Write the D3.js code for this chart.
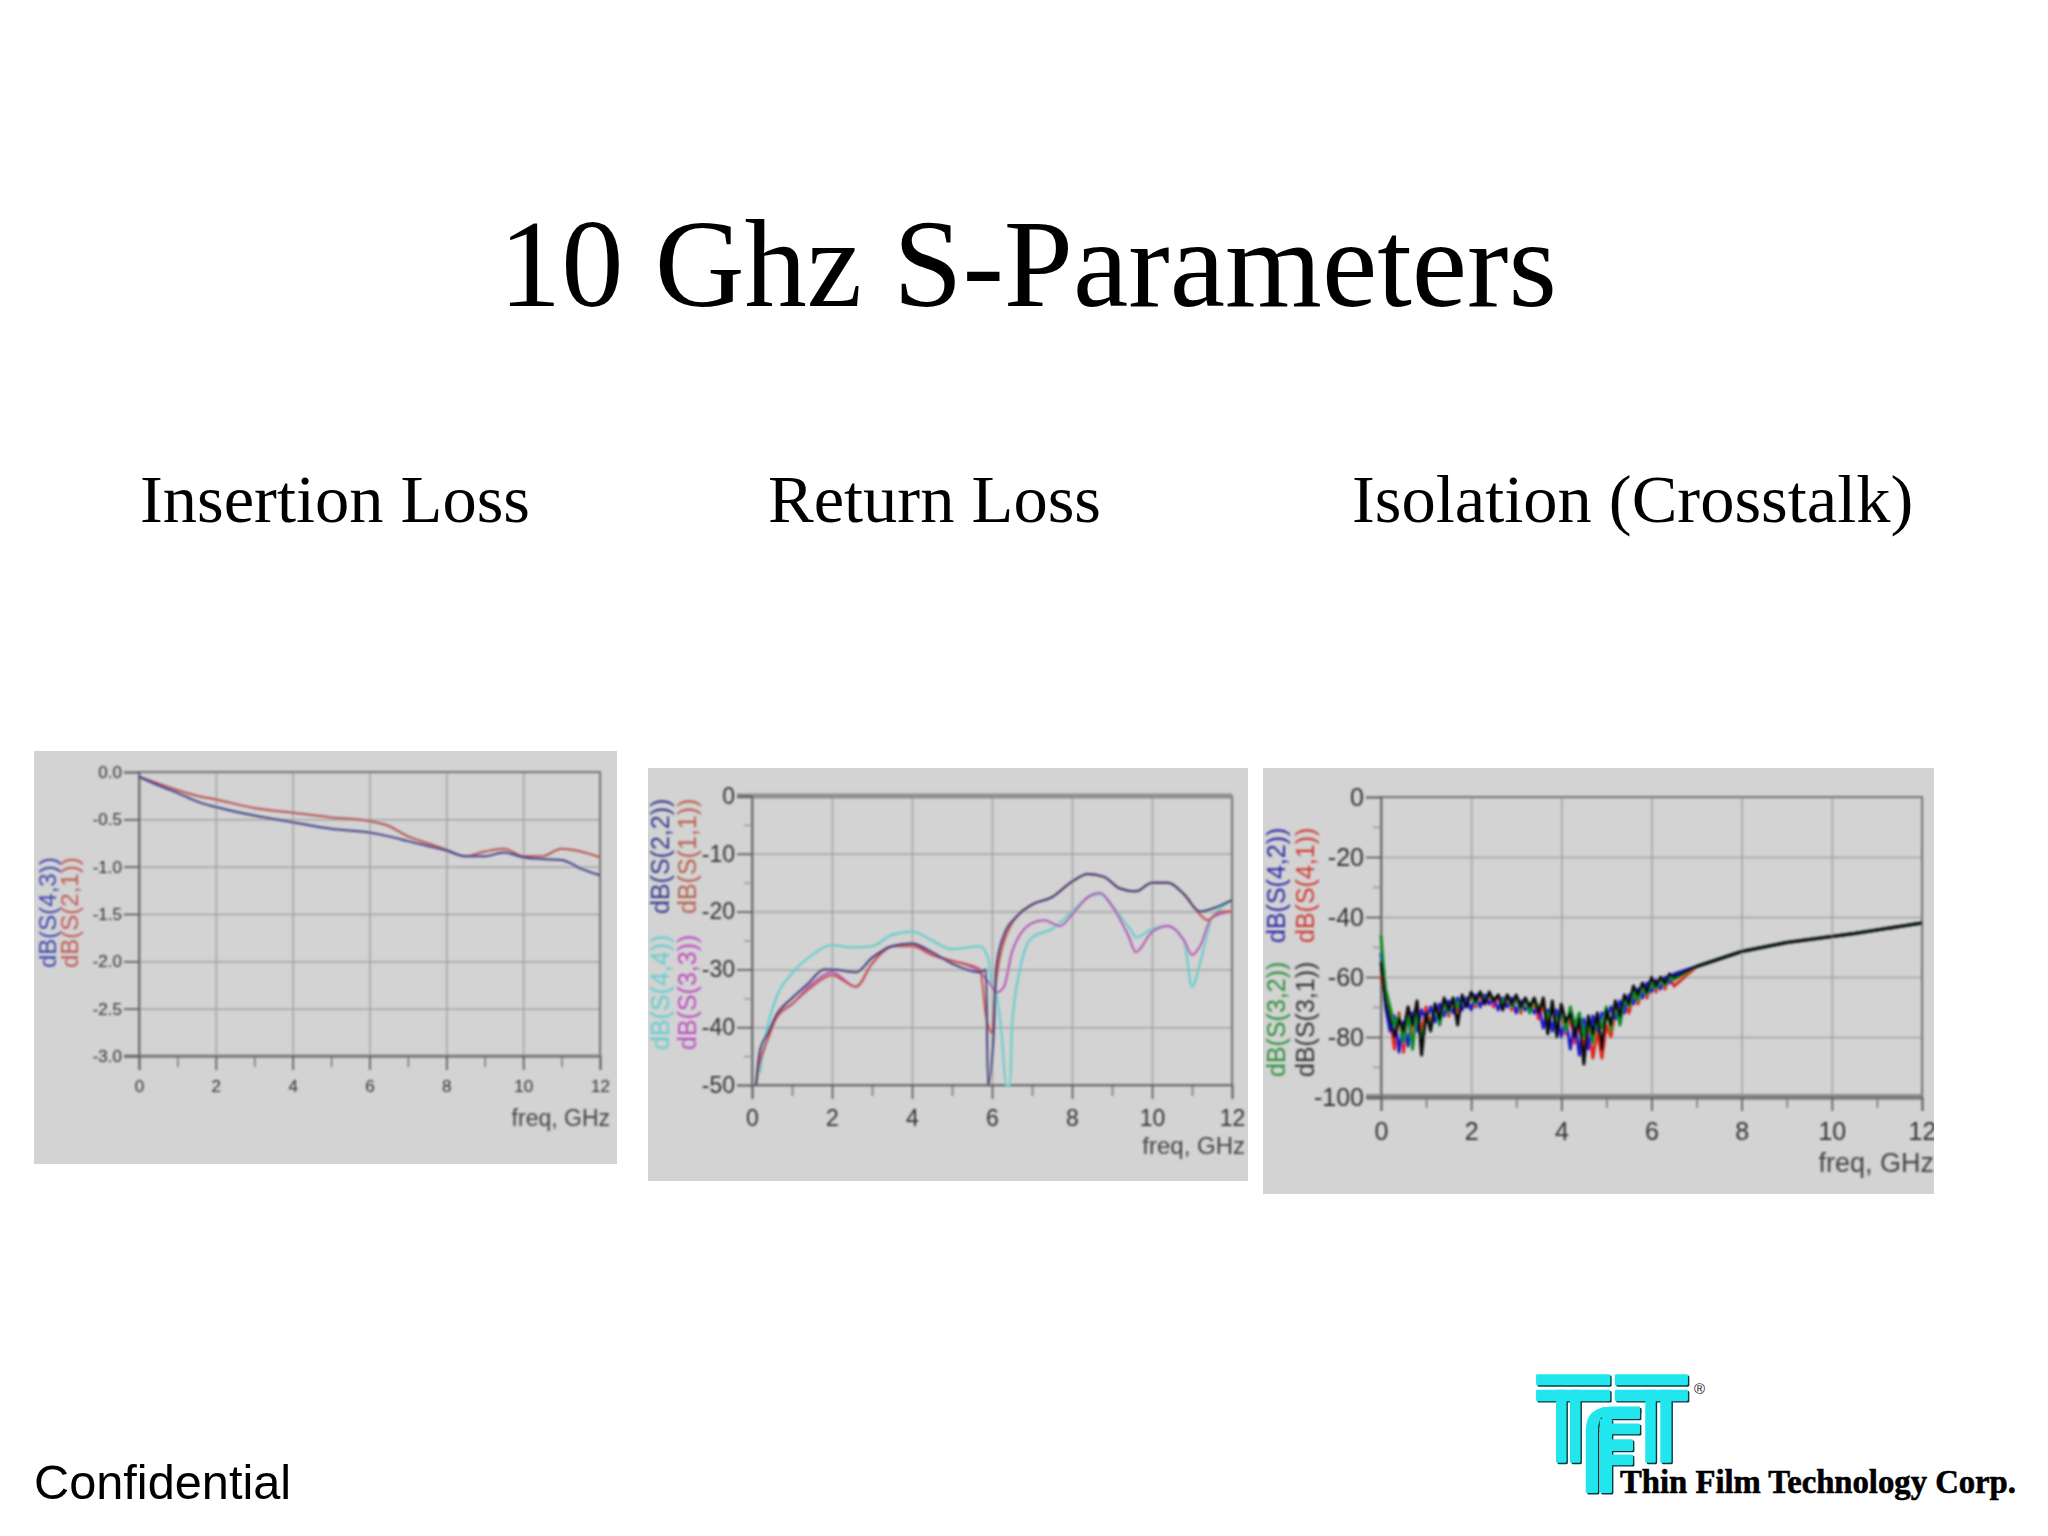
<!DOCTYPE html>
<html>
<head>
<meta charset="utf-8">
<script src="https://cdn.jsdelivr.net/npm/d3@7"></script>
<style>
html, body { margin: 0; padding: 0; background: #fff; }
svg { display: block; }
</style>
</head>
<body>
<script>
// insertion loss
var freq1 = [0, 0.5, 1, 1.5, 2, 3, 4, 5, 6, 6.5, 7, 7.5, 8, 8.5, 9, 9.5, 10, 10.5, 11, 11.5, 12];
var s43 = [-0.05, -0.14, -0.22, -0.31, -0.37, -0.46, -0.53, -0.6, -0.64, -0.68, -0.73, -0.78, -0.83, -0.89, -0.89, -0.85, -0.9, -0.92, -0.93, -1.02, -1.09];
var s21 = [-0.05, -0.12, -0.19, -0.25, -0.29, -0.38, -0.43, -0.48, -0.52, -0.57, -0.68, -0.75, -0.82, -0.89, -0.84, -0.81, -0.89, -0.89, -0.81, -0.84, -0.9];

// return loss
var freq22 = [0.1, 0.2, 0.4, 0.6, 1, 1.4, 1.8, 2, 2.6, 3, 3.5, 4, 4.5, 5, 5.7, 5.85, 5.9, 6.05, 6.1, 6.3, 6.6, 7, 7.5, 8, 8.4, 8.8, 9.2, 9.6, 10, 10.4, 10.8, 11.2, 11.5, 12];
var s22 = [-50, -44, -41, -38, -35, -32.5, -30, -30, -30.5, -28, -26, -25.5, -27, -29, -30.5, -30, -50, -40, -30, -24, -21, -18.8, -17.5, -14.8, -13.5, -14, -16, -16.5, -15, -15, -17, -20, -19.5, -18];
var freq11 = [0.1, 0.2, 0.4, 0.6, 1, 1.5, 2, 2.6, 3, 3.5, 4, 4.5, 5, 5.7, 5.85, 6, 6.1, 6.5, 7, 7.5, 8, 8.4, 8.8, 9.2, 9.6, 10, 10.4, 10.8, 11.2, 11.4, 11.7, 12];
var s11 = [-50, -46, -42, -38.5, -36, -33, -31, -33, -29, -26, -26, -27.5, -28.5, -30, -38, -41, -32, -22, -18.8, -17.5, -14.8, -13.5, -14, -16, -16.5, -15, -15, -17, -20.5, -21.5, -20, -20];
var freq44 = [0.2, 0.3, 0.6, 1, 1.5, 2, 2.5, 3, 3.5, 4, 4.5, 5, 5.7, 5.9, 6, 6.1, 6.25, 6.35, 6.45, 6.5, 6.7, 7, 7.5, 8, 8.4, 8.7, 9, 9.5, 9.6, 10, 10.4, 10.8, 11, 11.2, 11.5, 11.8, 12];
var s44 = [-48, -43, -35, -30.7, -27.5, -25.8, -26.2, -26, -24, -23.5, -25, -26.5, -26, -28, -33, -34, -42, -50, -50, -40, -30, -24.5, -23, -20, -17.5, -17, -19, -23.5, -24.5, -23, -22.5, -25, -33, -29, -21, -19, -18];
var freq33 = [0.2, 0.6, 1, 1.5, 2, 2.6, 3, 3.5, 4, 4.5, 5, 5.7, 6, 6.1, 6.3, 6.5, 7, 7.3, 7.7, 8, 8.4, 8.7, 9, 9.4, 9.6, 10, 10.4, 10.8, 11, 11.2, 11.5, 12];
var s33 = [-46, -38.5, -36, -32.5, -30.5, -33, -29, -26, -25.5, -27.5, -28.5, -30.5, -33, -34, -33, -27, -22, -21.5, -22.5, -20.5, -17.5, -16.8, -19, -24, -27, -23.5, -22.5, -25, -27.5, -26, -21, -20];

// isolation
var freq3 = [0, 0.05, 0.1, 0.2, 0.3, 0.4, 0.5, 0.6, 0.7, 0.8, 0.9, 1,
  1.1, 1.2, 1.3, 1.4, 1.5, 1.6, 1.7, 1.8, 1.9, 2,
  2.1, 2.2, 2.3, 2.4, 2.5, 2.6, 2.7, 2.8, 2.9, 3,
  3.1, 3.2, 3.3, 3.4, 3.5, 3.6, 3.7, 3.8, 3.9, 4,
  4.1, 4.2, 4.3, 4.4, 4.5, 4.6, 4.7, 4.8, 4.9, 5,
  5.1, 5.2, 5.3, 5.4, 5.5, 5.6, 5.7, 5.8, 5.9, 6,
  6.1, 6.2, 6.3, 6.4, 6.5, 7, 7.5, 8, 8.5, 9, 9.5, 10, 10.5, 11, 11.5, 12];
var tail3 = [-56.5, -54, -51.5, -50, -48.5, -47.5, -46.5, -45.5, -44.3, -43.2, -42];
var s41 = [-60, -63, -66, -74, -84, -72, -85, -70, -80, -69, -79, -70,
  -76, -69, -72, -68, -73, -68, -71, -67, -70, -66,
  -70, -66, -69, -66, -70, -66, -69, -67, -71, -67,
  -72, -68, -71, -69, -74, -69, -75, -70, -76, -72,
  -79, -73, -82, -75, -84, -76, -87, -78, -87, -76,
  -80, -71, -75, -69, -72, -66, -69, -64, -67, -62,
  -65, -61, -64, -60, -63].concat(tail3);
var s42 = [-52, -60, -70, -78, -73, -85, -75, -83, -72, -78, -71, -74,
  -70, -75, -69, -73, -68, -72, -67, -71, -67, -71,
  -66, -70, -66, -69, -67, -71, -67, -70, -67, -72,
  -68, -71, -69, -72, -70, -77, -71, -78, -71, -80,
  -74, -84, -75, -86, -74, -84, -73, -78, -72, -74,
  -70, -74, -68, -72, -66, -69, -64, -67, -62, -65,
  -61, -64, -60, -62, -59].concat(tail3);
var s32 = [-46, -56, -64, -70, -76, -73, -82, -72, -84, -70, -82, -72,
  -77, -69, -76, -68, -72, -67, -70, -67, -69, -66,
  -69, -65, -68, -66, -68, -66, -69, -66, -70, -67,
  -71, -67, -72, -68, -70, -69, -74, -69, -76, -71,
  -78, -70, -76, -72, -80, -74, -82, -73, -77, -70,
  -78, -68, -76, -67, -70, -65, -68, -63, -66, -62,
  -64, -61, -63, -60, -61].concat(tail3);
var s31 = [-55, -62, -68, -74, -80, -74, -78, -70, -76, -68, -86, -72,
  -78, -69, -74, -67, -71, -67, -76, -66, -70, -65,
  -68, -65, -69, -65, -68, -66, -71, -66, -69, -66,
  -70, -67, -70, -67, -72, -67, -79, -68, -80, -69,
  -75, -72, -80, -74, -89, -73, -79, -72, -84, -71,
  -76, -68, -73, -66, -69, -63, -66, -62, -65, -60,
  -63, -60, -62, -59, -60].concat(tail3);

var xTicks = [0, 2, 4, 6, 8, 10, 12];
var xMinor = [1, 3, 5, 7, 9, 11];
var yTicks1 = [0, -0.5, -1, -1.5, -2, -2.5, -3];
var yTicks2 = [0, -10, -20, -30, -40, -50];
var yMinor2 = [-5, -15, -25, -35, -45];
var yTicks3 = [0, -20, -40, -60, -80, -100];
var yMinor3 = [-10, -30, -50, -70, -90];

// plain hyphen on tick labels, as in the original plots
var hyphen = d3.formatLocale({ decimal: ".", thousands: ",", grouping: [3], currency: ["", ""], minus: "-" });

var panels = [
  { box: [34, 751, 583, 413], plot: [139, 600, 772, 1056], yDomain: [-3, 0], yTicks: yTicks1, yMinor: [],
    fmt: hyphen.format(".1f"), font: 17, axisFont: 23, xLabel: [610, 1126], lw: 2, pad: 10, curve: d3.curveMonotoneX, band: [-3, 3],
    series: [[freq1, s21, "#b5524e"], [freq1, s43, "#3c3f8c"]],
    legend: [["dB(S(4,3))", 48, 968, "#3f46b0"], ["dB(S(2,1))", 70, 968, "#c25a55"]], legendFont: 24 },
  { box: [648, 768, 600, 413], plot: [752, 1232, 796, 1085], yDomain: [-50, 0], yTicks: yTicks2, yMinor: yMinor2,
    fmt: hyphen.format("d"), font: 23, axisFont: 24, xLabel: [1245, 1154], lw: 2, pad: 11, curve: d3.curveMonotoneX, band: [0, 5],
    series: [[freq44, s44, "#5ecdcd"], [freq33, s33, "#b452b4"], [freq11, s11, "#c4524a"], [freq22, s22, "#3a3a78"]],
    legend: [["dB(S(2,2))", 660, 914, "#353a8e"], ["dB(S(1,1))", 687, 914, "#b8604a"],
             ["dB(S(4,4))", 660, 1050, "#63cfcf"], ["dB(S(3,3))", 687, 1050, "#c04cc0"]], legendFont: 25 },
  { box: [1263, 768, 671, 426], plot: [1381, 1922, 797, 1097], yDomain: [-100, 0], yTicks: yTicks3, yMinor: yMinor3,
    fmt: hyphen.format("d"), font: 25, axisFont: 27, xLabel: [1934, 1172], lw: 3, pad: 11, curve: d3.curveLinear, band: [-100, 6],
    series: [[freq3, s41, "#e0261e"], [freq3, s42, "#1c1cc0"], [freq3, s32, "#108a28"], [freq3, s31, "#111111"]],
    legend: [["dB(S(4,2))", 1276, 943, "#2a2aa8"], ["dB(S(4,1))", 1305, 943, "#d03a34"],
             ["dB(S(3,2))", 1276, 1077, "#2f8f3a"], ["dB(S(3,1))", 1305, 1077, "#333333"]], legendFont: 25 }
];

var svg = d3.select("body").append("svg")
    .attr("width", 2048)
    .attr("height", 1536);

var defs = svg.append("defs");
defs.append("filter").attr("id", "soft")
    .attr("x", "-5%").attr("y", "-5%").attr("width", "110%").attr("height", "110%")
  .append("feGaussianBlur").attr("stdDeviation", 0.9);

var serif = "'Liberation Serif', serif";
var sans = "'Liberation Sans', sans-serif";

function slideText(str, x, y, size, family) {
  svg.append("text").attr("x", x).attr("y", y)
      .attr("font-family", family).attr("font-size", size)
      .attr("fill", "#000").text(str);
}

slideText("10 Ghz S-Parameters", 499, 306, 124.5, serif);
slideText("Insertion Loss", 140, 522, 68.5, serif);
slideText("Return Loss", 768, 522, 68.5, serif);
slideText("Isolation (Crosstalk)", 1352, 522, 68.5, serif);
slideText("Confidential", 34, 1499, 48.7, sans);

panels.forEach(function (p, i) {
  var clipId = "panel" + i;
  defs.append("clipPath").attr("id", clipId)
    .append("rect").attr("x", p.box[0]).attr("y", p.box[1])
      .attr("width", p.box[2]).attr("height", p.box[3]);

  var outer = svg.append("g").attr("clip-path", "url(#" + clipId + ")");
  outer.append("rect").attr("x", p.box[0]).attr("y", p.box[1])
      .attr("width", p.box[2]).attr("height", p.box[3]).attr("fill", "#d3d3d3");

  var g = outer.append("g").attr("filter", "url(#soft)");

  var x = d3.scaleLinear().domain([0, 12]).range([p.plot[0], p.plot[1]]);
  var y = d3.scaleLinear().domain(p.yDomain).range([p.plot[3], p.plot[2]]);
  var h = p.plot[3] - p.plot[2];
  var w = p.plot[1] - p.plot[0];

  // grid
  g.append("g").attr("transform", "translate(0," + p.plot[2] + ")")
      .call(d3.axisBottom(x).tickValues(xTicks).tickSize(h).tickFormat(""))
      .call(function (s) { s.select(".domain").remove(); s.selectAll("line").attr("stroke", "#a3a3a3").attr("stroke-width", 1.5); });
  g.append("g").attr("transform", "translate(" + p.plot[0] + ",0)")
      .call(d3.axisRight(y).tickValues(p.yTicks).tickSize(w).tickFormat(""))
      .call(function (s) { s.select(".domain").remove(); s.selectAll("line").attr("stroke", "#a3a3a3").attr("stroke-width", 1.5); });

  // frame
  g.append("rect").attr("x", p.plot[0]).attr("y", p.plot[2]).attr("width", w).attr("height", h)
      .attr("fill", "none").attr("stroke", "#666").attr("stroke-width", 1.6);

  // the heavy grey edge each plot has on one side
  g.append("line")
      .attr("x1", p.plot[0] - 15).attr("x2", p.plot[1])
      .attr("y1", y(p.band[0])).attr("y2", y(p.band[0]))
      .attr("stroke", "#8f8f8f").attr("stroke-width", p.band[1]);

  // minor ticks
  g.append("g").attr("transform", "translate(0," + p.plot[3] + ")")
      .call(d3.axisBottom(x).tickValues(xMinor).tickSize(11).tickFormat(""))
      .call(function (s) { s.select(".domain").remove(); s.selectAll("line").attr("stroke", "#777").attr("stroke-width", 1.5); });
  g.append("g").attr("transform", "translate(" + p.plot[0] + ",0)")
      .call(d3.axisLeft(y).tickValues(p.yMinor).tickSize(8).tickFormat(""))
      .call(function (s) { s.select(".domain").remove(); s.selectAll("line").attr("stroke", "#999").attr("stroke-width", 1.5); });

  // major axes
  var xAxis = g.append("g").attr("transform", "translate(0," + p.plot[3] + ")")
      .call(d3.axisBottom(x).tickValues(xTicks).tickSize(14).tickPadding(p.pad).tickFormat(d3.format("d")));
  var yAxis = g.append("g").attr("transform", "translate(" + p.plot[0] + ",0)")
      .call(d3.axisLeft(y).tickValues(p.yTicks).tickSize(15).tickPadding(2).tickFormat(p.fmt));
  [xAxis, yAxis].forEach(function (a) {
    a.select(".domain").attr("stroke", "#666").attr("stroke-width", 1.6);
    a.selectAll("line").attr("stroke", "#555").attr("stroke-width", 1.6);
    a.selectAll("text").attr("font-family", sans).attr("font-size", p.font).attr("fill", "#333");
  });

  // curves
  var line = d3.line()
      .curve(p.curve)
      .x(function (d) { return x(d[0]); })
      .y(function (d) { return y(d[1]); });
  p.series.forEach(function (s) {
    g.append("path")
        .datum(d3.zip(s[0], s[1]))
        .attr("d", line)
        .attr("fill", "none")
        .attr("stroke", s[2])
        .attr("stroke-width", p.lw)
        .attr("stroke-linejoin", "round");
  });

  // stacked rotated legend names
  p.legend.forEach(function (l) {
    g.append("text")
        .attr("transform", "translate(" + l[1] + "," + l[2] + ") rotate(-90)")
        .attr("dy", "0.35em")
        .attr("font-family", sans).attr("font-size", p.legendFont)
        .attr("fill", l[3]).text(l[0]);
  });

  g.append("text").attr("x", p.xLabel[0]).attr("y", p.xLabel[1])
      .attr("text-anchor", "end")
      .attr("font-family", sans).attr("font-size", p.axisFont)
      .attr("fill", "#444").text("freq, GHz");
});

// TFT logo
var logo = svg.append("g").attr("transform", "translate(1500,1350) scale(0.35,0.3367)");
var logoBars = [
  [103, 72, 212, 33], [328, 72, 209, 33],
  [103, 118, 212, 34], [328, 118, 209, 34],
  [160, 118, 30, 217], [200, 118, 30, 217],
  [415, 118, 30, 217], [458, 118, 32, 217],
  [290, 170, 110, 35], [290, 218, 110, 32],
  [290, 265, 90, 35], [290, 310, 90, 32],
  [285, 205, 35, 220], [245, 235, 35, 190]
];
var logoCurve = "M245,240 Q245,168 320,168 L400,168 L400,183 L325,183 Q280,183 280,240 Z";

[["#0a3a40", 4], ["#22e6ee", 0]].forEach(function (layer) {
  var g = logo.append("g").attr("transform", "translate(" + layer[1] + "," + layer[1] + ")").attr("fill", layer[0]);
  logoBars.forEach(function (b) {
    g.append("rect").attr("x", b[0]).attr("y", b[1]).attr("width", b[2]).attr("height", b[3]).attr("rx", 4);
  });
  g.append("path").attr("d", logoCurve);
});

svg.append("text").attr("x", 1694).attr("y", 1394)
    .attr("font-family", sans).attr("font-size", 15).attr("fill", "#222").text("®");
svg.append("text").attr("x", 1620).attr("y", 1493)
    .attr("font-family", serif).attr("font-weight", "bold")
    .attr("font-size", 32.7).attr("stroke", "#000").attr("stroke-width", 0.6)
    .attr("fill", "#000").text("Thin Film Technology Corp.");
</script>
</body>
</html>
